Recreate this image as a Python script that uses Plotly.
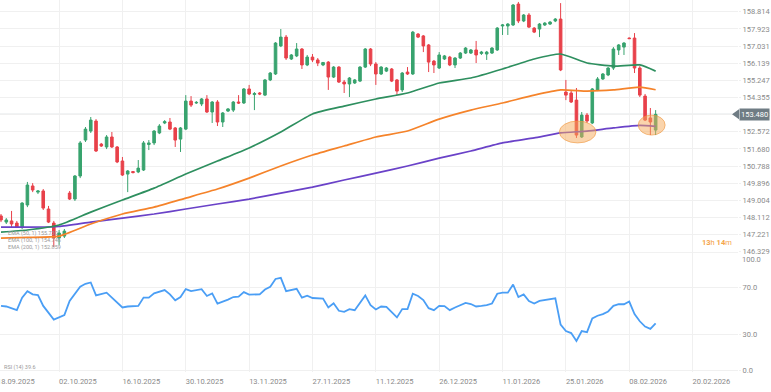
import plotly.graph_objects as go

# ---------------- data ----------------
bar_index = list(range(-11, 114))

open_ = [148.19,147.87,147.93,147.82,147.61,148.76,149.75,149.43,149.49,148.55,147.82,
         147.04,147.14,149.38,149.07,150.27,152.14,152.61,153.13,151.93,151.78,152.30,151.78,151.05,
         150.37,150.50,150.48,150.58,151.91,151.99,152.51,153.03,153.08,152.77,152.19,152.71,
         154.17,154.07,154.02,154.28,153.60,154.12,153.08,153.65,153.70,154.12,154.07,154.80,
         154.51,154.59,154.48,155.27,155.58,157.04,157.50,156.36,156.52,156.88,156.05,156.46,
         156.31,156.05,156.20,155.42,155.94,155.16,155.06,155.11,155.21,155.94,156.88,156.10,
         155.58,155.73,155.84,155.27,154.75,155.68,155.58,157.66,157.56,157.09,156.25,155.89,
         156.36,156.46,156.05,156.41,156.67,156.67,156.83,156.65,156.62,156.67,156.83,158.08,
         158.08,158.13,159.22,158.34,158.65,157.97,157.92,158.13,158.18,158.34,158.44,154.64,
         154.59,154.22,152.30,153.44,153.03,154.75,155.32,155.53,155.89,156.83,156.98,157.45,
         157.45,155.89,154.43,153.29,152.66]
high = [148.29,148.08,148.45,147.93,148.91,149.96,149.90,149.54,149.59,148.71,147.93,
        147.46,147.51,149.49,150.32,152.09,152.82,153.34,153.23,151.99,152.40,152.56,151.83,151.26,
        150.58,150.53,151.10,152.09,152.14,152.66,152.97,153.18,153.29,152.82,152.82,154.48,
        154.43,154.17,154.33,154.48,154.17,154.22,153.60,153.81,154.17,154.48,154.85,155.01,
        154.64,154.64,155.32,155.68,157.24,157.92,157.61,156.62,157.19,156.93,156.57,156.62,
        156.41,156.20,156.25,155.99,155.99,155.27,155.42,155.32,155.99,156.93,156.93,156.20,
        155.99,155.94,155.89,155.32,155.68,155.94,157.82,157.71,157.61,157.14,156.31,156.72,
        156.57,156.52,156.46,156.72,156.98,156.88,157.30,156.78,156.78,156.98,158.02,158.18,
        158.23,159.22,159.33,158.70,158.75,158.02,158.23,158.28,158.34,158.49,159.27,155.27,
        154.75,154.85,153.60,153.55,154.85,155.42,155.63,155.94,156.98,157.14,157.24,157.48,
        157.71,155.99,154.54,153.81,153.70]
low = [147.87,147.77,147.61,147.56,147.51,148.65,149.43,149.33,148.50,147.82,146.57,
       146.68,147.04,149.02,148.97,150.16,152.04,152.51,151.52,151.78,151.67,151.73,150.94,150.27,
       149.43,150.40,150.42,150.53,151.62,151.88,152.45,152.97,152.66,151.78,151.52,152.66,
       153.86,154.02,153.91,153.55,153.03,152.87,152.82,153.60,153.60,154.02,154.02,154.48,
       153.70,154.48,154.43,155.21,155.53,156.98,156.31,156.31,156.46,155.84,155.99,156.20,
       155.99,155.99,154.75,155.37,155.11,154.59,154.38,155.06,155.16,155.89,155.99,155.01,
       155.53,155.68,155.16,154.48,154.64,155.53,155.53,157.45,156.72,155.68,155.63,155.84,
       156.31,155.99,155.89,156.36,156.62,156.62,156.15,156.57,156.31,156.62,156.78,157.61,
       157.61,158.08,158.23,158.28,157.97,157.71,157.50,158.08,158.13,158.28,155.73,154.22,
       154.07,152.25,152.25,153.03,152.97,154.69,155.27,155.47,155.79,156.57,156.57,157.40,
       155.63,154.38,153.13,152.40,152.40]
close = [147.98,147.98,147.77,147.61,148.86,149.80,149.54,149.49,148.60,147.87,147.04,
         147.30,147.40,149.07,150.27,151.99,152.71,153.18,151.57,151.83,152.30,151.78,151.00,150.32,
         150.53,150.45,150.68,151.99,151.99,152.61,152.87,153.10,152.71,152.14,152.77,154.17,
         153.96,154.10,154.28,153.60,154.12,153.08,153.55,153.76,154.12,154.07,154.80,154.54,
         154.56,154.54,155.27,155.63,157.19,157.50,156.41,156.57,156.88,156.05,156.46,156.31,
         156.15,156.18,155.42,155.94,155.16,155.06,155.37,155.27,155.94,156.88,156.10,155.58,
         155.94,155.89,155.21,154.69,155.63,155.58,157.76,157.50,157.04,156.20,156.05,156.57,
         156.52,156.05,156.41,156.67,156.93,156.83,156.57,156.72,156.72,156.93,157.97,158.13,
         158.18,159.17,158.34,158.65,158.02,157.76,158.18,158.23,158.28,158.44,155.79,154.48,
         154.12,152.40,153.44,153.13,154.80,155.32,155.58,155.89,156.88,157.09,157.19,157.42,
         155.89,154.48,153.18,153.08,153.48]

ema_index = [-11, -6, 0, 6, 12, 18, 24, 30, 36, 42, 48, 54, 60, 66, 72, 78, 84, 90, 95, 100, 105, 110, 113]
ema50 = [147.35, 147.46, 147.72, 148.39, 149.02, 149.64, 150.37, 151.05, 151.73, 152.56, 153.50, 153.91,
         154.28, 154.59, 155.11, 155.37, 155.84, 156.36, 156.62, 156.15, 155.99, 156.05, 155.73]
ema100 = [147.04, 147.07, 147.14, 147.77, 148.29, 148.65, 149.12, 149.59, 150.16, 150.79, 151.36, 151.83,
          152.30, 152.61, 153.23, 153.70, 154.07, 154.48, 154.75, 154.69, 154.75, 154.90, 154.76]
ema200 = [147.61, 147.61, 147.64, 147.87, 148.08, 148.29, 148.55, 148.81, 149.07, 149.38, 149.69, 150.06,
          150.42, 150.79, 151.20, 151.57, 151.99, 152.25, 152.51, 152.61, 152.77, 152.90, 152.85]

rsi_index = [-11, -10, -8, -7, -6, -5, -4, -3, -1, 1, 2, 4, 5, 6, 7, 9, 12, 13, 15, 16, 17, 18,
             20, 21, 22, 23, 24, 25, 27, 28, 29, 30, 32, 33, 34, 35, 36, 38, 39, 40, 41, 42,
             43, 45, 46, 47, 48, 50, 51, 52, 53, 54, 55, 56, 58, 59, 60, 61, 62, 64, 65, 66,
             67, 68, 69, 70, 71, 72, 73, 74, 75, 76, 77, 78, 79, 80, 81, 82, 83, 84, 85, 86,
             87, 88, 89, 90, 91, 94, 95, 96, 97, 98, 99, 100, 101, 102, 103, 104, 105, 106,
             107, 108, 109, 110, 111, 112, 113]
rsi_value = [54.4, 53.9, 50.8, 61.4, 66.9, 64.2, 63.6, 54.4, 42.8, 46.7, 58.6, 70.6, 73.1, 74.2, 63.3, 65.6, 53.1, 53.9, 54.4, 61.4, 61.4, 65.0,
             67.8, 64.2, 59.2, 61.9, 68.6, 66.9, 68.6, 62.8, 65.0, 56.4, 59.7, 61.9, 62.2, 66.1, 63.9, 64.2, 68.3, 70.6, 77.2, 78.1,
             66.9, 68.9, 61.4, 63.1, 61.1, 60.6, 53.1, 56.7, 50.3, 49.4, 51.7, 50.8, 63.3, 55.0, 51.4, 53.9, 53.6, 44.7, 51.7, 51.7,
             64.7, 62.8, 59.4, 52.5, 50.8, 54.4, 54.2, 50.8, 53.1, 55.0, 56.9, 56.0, 53.9, 54.4, 55.0, 56.4, 64.7, 65.6, 65.6, 72.5,
             61.9, 64.2, 58.6, 56.4, 58.6, 60.8, 38.6, 33.1, 31.4, 24.7, 33.1, 32.2, 43.9, 46.1, 47.5, 49.7, 54.4, 55.8,
             55.8, 58.1, 47.5, 41.4, 36.9, 35.0, 39.7]

price_ticks = [146.329, 147.221, 148.112, 149.004, 149.896, 150.788, 151.680, 152.572, 153.463,
               154.355, 155.247, 156.139, 157.031, 157.923, 158.814]
rsi_ticks = [0, 30, 70]
rsi_tick_labels = ["0.0", "30.0", "70.0"]
date_tick_index = [0, 12, 24, 36, 48, 60, 72, 84, 96, 108, 120]
date_labels = ["02.10.2025", "16.10.2025", "30.10.2025", "13.11.2025", "27.11.2025", "11.12.2025",
               "26.12.2025", "11.01.2026", "25.01.2026", "08.02.2026", "20.02.2026"]
first_cut_label = "18.09.2025"
last_price = 153.480
ema_legend = ["EMA (50, 1) 155.730", "EMA (100, 1) 154.746", "EMA (200, 1) 152.859"]
rsi_legend = "RSI (14) 39.6"
countdown = "<b>13</b>h <b>14</b>m"

# ---------------- style ----------------
GREEN = "#38a36e"
RED = "#e8414a"
C50 = "#2e8f5f"
C100 = "#f5832a"
C200 = "#6a42c8"
GRID = "#f0f0f0"
TXT = "#8a8a8a"
FONT = "Liberation Sans Narrow, Roboto, sans-serif"

W, H = 771, 392
ML, MR, MT, MB = 0, 30, 0, 20
PLOT_H = H - MT - MB
split = 120 / PLOT_H
x_range = [-11.19, 128.6]
y_range = [146.313, 159.4315]
rsi_range = [-1.5, 100]

fig = go.Figure()

fig.add_trace(go.Candlestick(
    x=bar_index, open=open_, high=high, low=low, close=close,
    increasing=dict(line=dict(color=GREEN, width=1), fillcolor=GREEN),
    decreasing=dict(line=dict(color=RED, width=1), fillcolor=RED),
    whiskerwidth=0, hoverinfo="skip", showlegend=False, xaxis="x", yaxis="y"))

for vals, col in [(ema200, C200), (ema100, C100), (ema50, C50)]:
    fig.add_trace(go.Scatter(x=ema_index, y=vals, mode="lines",
                             line=dict(color=col, width=1.7, shape="spline", smoothing=0.5),
                             hoverinfo="skip", showlegend=False, xaxis="x", yaxis="y"))

fig.add_trace(go.Scatter(x=rsi_index, y=rsi_value, mode="lines",
                         line=dict(color="#4a9ef5", width=1.8),
                         hoverinfo="skip", showlegend=False, xaxis="x2", yaxis="y2"))

axis_common = dict(showgrid=True, gridcolor=GRID, gridwidth=1, zeroline=False, showline=False)

fig.update_layout(
    width=W, height=H, margin=dict(l=ML, r=MR, t=MT, b=MB),
    paper_bgcolor="white", plot_bgcolor="white", showlegend=False,
    font=dict(family=FONT, size=7.5, color=TXT),
    xaxis=dict(domain=[0, 1], anchor="y", range=x_range, tickvals=date_tick_index,
               showticklabels=False, ticks="", rangeslider=dict(visible=False), **axis_common),
    xaxis2=dict(domain=[0, 1], anchor="y2", range=x_range, tickvals=date_tick_index,
                ticktext=date_labels, ticklabelposition="outside right", ticks="",
                ticklabelstandoff=3,
                tickfont=dict(family=FONT, size=7.5, color=TXT), **axis_common),
    yaxis=dict(domain=[split, 1], anchor="x", range=y_range, side="right",
               tickvals=price_ticks, ticktext=[f"{v:.3f}" for v in price_ticks],
               ticks="outside", ticklen=2, tickcolor=GRID,
               tickfont=dict(family=FONT, size=7.5, color=TXT), **axis_common),
    yaxis2=dict(domain=[0, split], anchor="x2", range=rsi_range, side="right",
                tickvals=rsi_ticks, ticktext=rsi_tick_labels,
                ticks="outside", ticklen=2, tickcolor=GRID,
                tickfont=dict(family=FONT, size=7.5, color=TXT), **axis_common),
)

shapes = []
shapes.append(dict(type="line", xref="paper", yref="y2", x0=0, x1=1, y0=100, y1=100,
                   line=dict(color="#e4e4e4", width=1), layer="below"))
shapes.append(dict(type="line", xref="paper", yref="y", x0=0, x1=0.992, y0=last_price, y1=last_price,
                   line=dict(color="#aeb7bd", width=1), layer="below"))
for (x0, x1, y0, y1) in [(94.75, 101.7, 151.99, 153.13), (109.7, 114.8, 152.40, 153.44)]:
    shapes.append(dict(type="circle", xref="x", yref="y", x0=x0, x1=x1, y0=y0, y1=y1,
                       fillcolor="rgba(246,170,90,0.5)", line=dict(color="rgba(240,150,60,0.6)", width=1),
                       layer="above"))
frac = (last_price - y_range[0]) / (y_range[1] - y_range[0])
py = split + frac * (1 - split)
dy = 5 / PLOT_H
plot_w = W - ML - MR
shapes.append(dict(type="path", xref="paper", yref="paper",
                   path=f"M {735/plot_w},{py} L {742/plot_w},{py+dy} L {742/plot_w},{py-dy} Z",
                   fillcolor="#6f7c84", line=dict(width=0)))
fig.update_layout(shapes=shapes)

ann = []
ann.append(dict(xref="paper", yref="y", x=742 / plot_w, y=last_price, xanchor="left", yanchor="middle",
                text=f"{last_price:.3f}", showarrow=False, bgcolor="#6f7c84",
                font=dict(family=FONT, size=7.5, color="white"), borderpad=1))
ann.append(dict(xref="paper", yref="paper", x=1.0 + 2 / plot_w, y=(PLOT_H - 259) / PLOT_H,
                xanchor="left", yanchor="middle", text="100.0", showarrow=False,
                font=dict(family=FONT, size=7.5, color=TXT)))
ann.append(dict(xref="paper", yref="paper", x=-5 / plot_w, y=-9.5 / PLOT_H, xanchor="left",
                yanchor="middle", text=first_cut_label, showarrow=False,
                font=dict(family=FONT, size=7.5, color=TXT)))
ann.append(dict(xref="paper", yref="paper", x=737 / plot_w, y=(PLOT_H - 242) / PLOT_H,
                xanchor="right", yanchor="middle", text=countdown, showarrow=False,
                font=dict(family=FONT, size=7.5, color="#f5a54a")))
for i, t in enumerate(ema_legend):
    ann.append(dict(xref="paper", yref="paper", x=6 / plot_w, y=(PLOT_H - 233 - 7 * i) / PLOT_H,
                    xanchor="left", yanchor="middle", text=t, showarrow=False,
                    font=dict(family=FONT, size=5.5, color="#9a9a9a")))
ann.append(dict(xref="paper", yref="paper", x=2 / plot_w, y=(PLOT_H - 367) / PLOT_H,
                xanchor="left", yanchor="middle", text=rsi_legend, showarrow=False,
                font=dict(family=FONT, size=5.5, color="#9a9a9a")))
fig.update_layout(annotations=ann)

fig.write_html("out.html", config={"displayModeBar": False},
               post_script="document.body.style.margin='0px';document.body.style.overflow='hidden';")
